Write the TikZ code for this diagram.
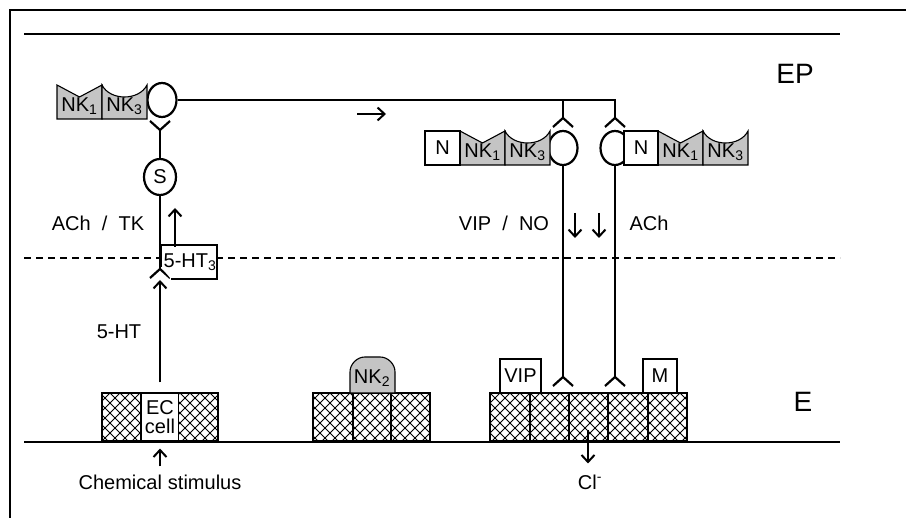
\documentclass[tikz,border=0pt]{standalone}
\usepackage{fontspec}
\setmainfont{Liberation Sans}
\usetikzlibrary{arrows.meta,shapes.geometric}

\tikzset{
  nerve/.style={line width=2.2pt},
  rec/.style={draw,line width=1.1pt,fill=black!23},
  rbox/.style={draw,line width=1.1pt,fill=white,minimum height=34pt},
  varic/.style={ellipse,draw,line width=2.2pt,fill=white,minimum width=29pt,minimum height=34pt},
  sig/.style={line width=2pt,-{Straight Barb[length=7pt,width=13pt]}},
}

\begin{document}
\begin{tikzpicture}[x=1pt,y=-1pt,every node/.style={font=\fontsize{20}{18}\selectfont,inner sep=0pt}]
  \useasboundingbox (0,0) rectangle (906,518);
  % frame and layers
  \draw[line width=1.4pt] (10,518) -- (10,10) -- (906,10);
  \draw[line width=1.8pt] (24,34) -- (840,34);
  \draw[line width=1.8pt] (24,442) -- (840,442);
  \draw[line width=1.2pt,dash pattern=on 7pt off 5pt] (24,258) -- (840,258);
  \node[font=\fontsize{28}{28}\selectfont] (ep) at (795,74) {EP};
  \node[font=\fontsize{28}{28}\selectfont] (e) at (803,402) {E};

  % epithelium
  \begin{scope}
    \clip (102,393) rectangle (218,441) (313,393) rectangle (430,441) (490,393) rectangle (687,441);
    \foreach \k in {50,60,...,740}
      \draw[line width=0.8pt] (\k,393) -- ++(48,48) (\k,393) -- ++(-48,48);
  \end{scope}
  \foreach \a/\b in {102/141,178/218,313/353,353/391,391/430,490/530,530/569,569/608,608/648,648/687}
    \draw[line width=1.1pt] (\a,393) rectangle (\b,441);
  \node[rbox,minimum width=37pt,minimum height=48pt,align=center,font=\fontsize{20}{19}\selectfont] (ec) at (160,417) {EC\\cell};
  \filldraw[rec] (350,393) -- (350,372) .. controls (350,364) and (357,357) .. (365,357)
    -- (380,357) .. controls (388,357) and (395,364) .. (395,372) -- (395,393) -- cycle;
  \node (nk2) at (372,378) {NK\textsubscript{2}};
  \node[rbox,minimum width=41pt] (vip) at (520.5,376) {VIP};
  \node[rbox,minimum width=34pt] (m) at (660,376) {M};

  % neurons
  \node[varic] (v0) at (162,100) {};
  \node[varic] (v1) at (563,148) {};
  \node[varic] (v2) at (615,148) {};
  \node[varic,minimum width=32pt,minimum height=36pt] (s) at (160,177) {S};
  \coordinate (ja) at (563,100);
  \coordinate (jb) at (615,100);
  \coordinate (ra) at (563,118);
  \coordinate (rb) at (615,118);
  \coordinate (ma) at (563,377);
  \coordinate (mb) at (615,377);
  \coordinate (y0) at (160,130);
  \coordinate (h3) at (160,269);
  \draw[nerve] (v0.east) -- (jb) -- (rb);
  \draw[nerve] (ja) -- (ra);
  \draw[nerve] (v1.south) -- (ma);
  \draw[nerve] (v2.south) -- (mb);
  \draw[nerve] (y0) -- (s.north);
  \draw[nerve] (s.south) -- (h3);
  \foreach \c in {ra,rb,ma,mb,h3}
    \draw[nerve] ([shift={(-10,9)}]\c) -- (\c) -- ([shift={(10,9)}]\c);
  \draw[nerve] ([shift={(-10,-9)}]y0) -- (y0) -- ([shift={(10,-9)}]y0);
  \filldraw[fill=white,line width=1.1pt] (161,267) -- (161,245) -- (217,245) -- (217,279) -- (171,279);
  \node (ht3) at (190,262) {5-HT\textsubscript{3}};

  % receptors
  \foreach \gx/\gy in {57/85,460/131,658/131} {
    \filldraw[rec] (\gx,\gy) -- (\gx,\gy+34) -- (\gx+45,\gy+34) -- (\gx+45,\gy)
      -- (\gx+22.5,\gy+12) -- cycle;
    \filldraw[rec] (\gx+45,\gy) -- (\gx+45,\gy+34) -- (\gx+90,\gy+34) -- (\gx+90,\gy)
      .. controls (\gx+82,\gy+16) and (\gx+53,\gy+16) .. (\gx+45,\gy) -- cycle;
    \node (nka\gx) at (\gx+22.5,\gy+21) {NK\textsubscript{1}};
    \node (nkb\gx) at (\gx+67.5,\gy+21) {NK\textsubscript{3}};
  }
  \node[rbox,minimum width=35pt] (na) at (442.5,148) {N};
  \node[rbox,minimum width=34pt] (nb) at (641,148) {N};

  % transmitters
  \node (acht) at (98,223) {ACh~~/~~TK};
  \node (vipno) at (504,223) {VIP~~/~~NO};
  \node (achr) at (649,223) {ACh};
  \node (ht) at (119,332) {5-HT};
  \node (chem) at (160,482) {Chemical\hspace{6pt}stimulus};
  \node (cl) at (590,482) {Cl\textsuperscript{-}};
  \coordinate (up0) at (175,247);
  \coordinate (up1) at (175,208);
  \coordinate (rt0) at (357,114);
  \coordinate (rt1) at (386,114);
  \coordinate (dn0) at (575,213);
  \coordinate (dn1) at (599,213);
  \coordinate (cl0) at (588,430);
  \draw[sig] (up0) -- (up1);
  \draw[sig] (rt0) -- (rt1);
  \draw[sig] (dn0) -- ++(0,25);
  \draw[sig] (dn1) -- ++(0,25);
  \draw[sig,shorten >=11pt] (cl0) -- (cl.north -| cl0);
  \draw[sig,shorten <=10pt,shorten >=11pt] (ec.north) -- (h3);
  \draw[sig,shorten <=8pt,shorten >=7pt] (chem.north) -- (ec.south);
\end{tikzpicture}
\end{document}
